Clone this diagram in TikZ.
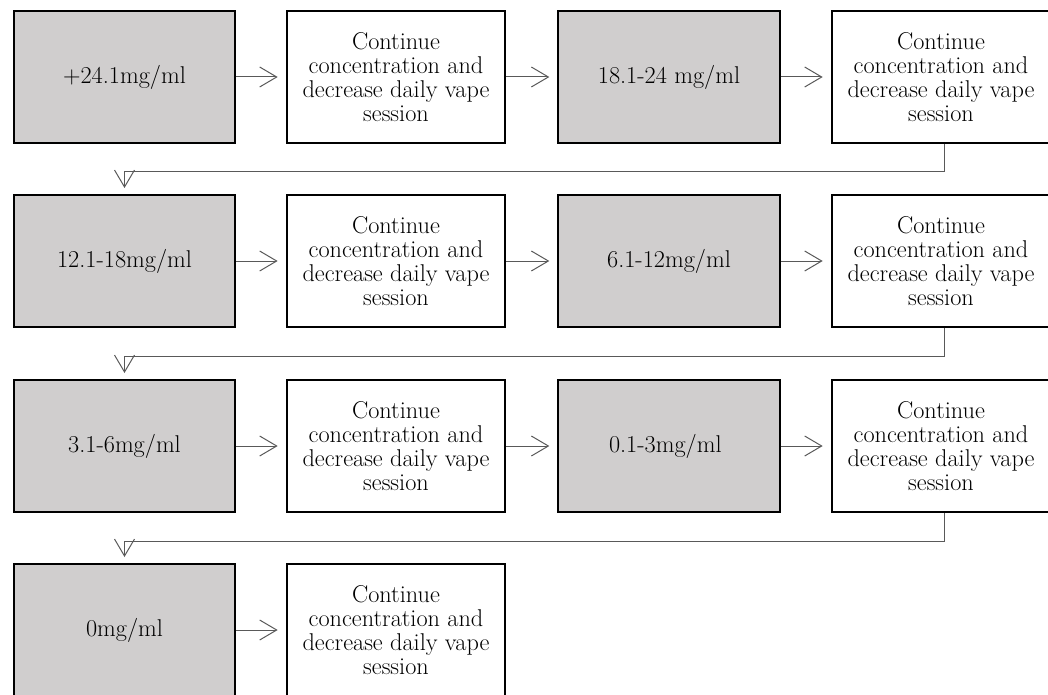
\documentclass[tikz,border=0pt]{standalone}
\usetikzlibrary{arrows.meta}

\definecolor{boxgray}{HTML}{D0CECE}
\definecolor{linegray}{HTML}{595959}

\begin{document}
\begin{tikzpicture}[
  x=0.75pt,
  y=-0.75pt
]

% ボックスと矢印のスタイル
\tikzset{
  conc/.style={rectangle, fill=boxgray, draw=black, line width=1.5pt, minimum width=166pt, minimum height=99pt, inner sep=0pt, align=center, font=\fontsize{18.2}{18}\selectfont},
  stepbox/.style={rectangle, fill=white, draw=black, line width=1.5pt, minimum width=164pt, minimum height=99pt, inner sep=0pt, align=center, font=\fontsize{18.2}{18}\selectfont},
  flow/.style={draw=linegray, line width=0.75pt, -{Straight Barb[length=12.75pt,width=15pt]}, shorten >=6pt}
}

\useasboundingbox (0,0) rectangle (1048,695);

\def\steptext{Continue\\concentration and\\decrease daily vape\\session}

% ===== 1〜3段目 =====
\foreach \n/\y/\ta/\tb in {
  1/77/{+24.1mg/ml}/{18.1-24 mg/ml},
  2/261/{12.1-18mg/ml}/{6.1-12mg/ml},
  3/446/{3.1-6mg/ml}/{0.1-3mg/ml}
} {
  \node[conc] (ca\n) at (124.5,\y) {\ta};
  \node[stepbox] (sa\n) at (396,\y) {\steptext};
  \node[conc] (cb\n) at (669,\y) {\tb};
  \node[stepbox] (sb\n) at (941,\y) {\steptext};
  \draw[flow] (ca\n) -- (sa\n);
  \draw[flow] (sa\n) -- (cb\n);
  \draw[flow] (cb\n) -- (sb\n);
}

% ===== 4段目 =====
\node[conc] (ca4) at (124.5,630) {0mg/ml};
\node[stepbox] (sa4) at (396,630) {\steptext};
\draw[flow] (ca4) -- (sa4);

% ===== 段の折り返し =====
\foreach \n/\m in {1/2, 2/3, 3/4} {
  \draw[flow, shorten >=4.5pt] ([xshift=2.25pt]sb\n.south) -- ++(0,28) -| (ca\m.north);
}

\end{tikzpicture}
\end{document}
